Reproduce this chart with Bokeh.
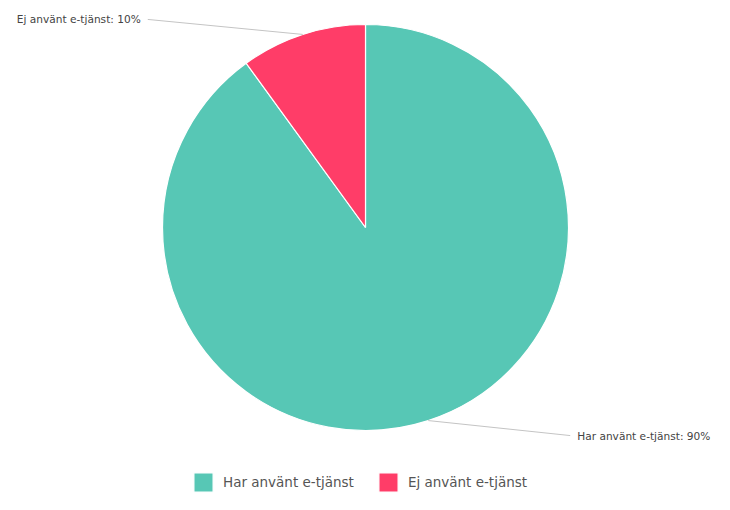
import math
from bokeh.plotting import figure
from bokeh.models import Range1d, Legend, LegendItem
from bokeh.core.properties import value
from bokeh.embed import file_html
from bokeh.resources import INLINE

categories = ["Har använt e-tjänst", "Ej använt e-tjänst"]
values = [90, 10]
colors = ["#57C7B5", "#FF3D68"]

W, H = 714, 494
p = figure(width=W, height=H, output_backend="svg", toolbar_location=None,
           x_range=Range1d(0, W), y_range=Range1d(0, H), min_border=0,
           outline_line_color=None)
p.axis.visible = False
p.grid.visible = False

# pie geometry (figure coords, y up)
cx, cy, R = 365, H - 227, 203
total = sum(values)
start = math.pi / 2
starts, ends, mids = [], [], []
a = start
for v in values:
    sweep = 2 * math.pi * v / total
    starts.append(a)
    ends.append(a - sweep)
    mids.append(a - sweep / 2)
    a -= sweep

renderers = []
for i, (cat, v, c) in enumerate(zip(categories, values, colors)):
    r = p.wedge(x=cx, y=cy, radius=R, radius_units="screen",
                start_angle=starts[i], end_angle=ends[i], direction="clock",
                fill_color=c, line_color="white", line_width=1.2)
    renderers.append(r)

# leader lines and labels
for i, (cat, v) in enumerate(zip(categories, values)):
    m = mids[i]
    px = cx + R * math.cos(m)
    py = cy + R * math.sin(m)
    side = 1 if math.cos(m) >= 0 else -1
    vside = 1 if math.sin(m) >= 0 else -1
    length = 142 if side > 0 else 155
    ex = px + side * length
    ey = py + vside * 15
    p.line(x=[px, ex], y=[py, ey], line_color="#c4c4c4", line_width=1)
    p.text(x=[ex + side * 7], y=[ey], text=[f"{cat}: {v}%"],
           text_font=value("DejaVu Sans"), text_font_size="10.6px",
           text_color="#444444", text_baseline="middle",
           text_align="left" if side > 0 else "right")

legend = Legend(items=[LegendItem(label=cat, renderers=[r]) for cat, r in zip(categories, renderers)],
                orientation="horizontal", location=(191, 0),
                glyph_width=24, glyph_height=24, label_standoff=8, spacing=22,
                padding=0, margin=0, border_line_color=None,
                background_fill_alpha=0, label_text_font="DejaVu Sans",
                label_text_font_size="13.5px", label_text_color="#555555",
                label_height=24)
p.add_layout(legend)

open("out.html", "w").write(file_html(p, INLINE))
